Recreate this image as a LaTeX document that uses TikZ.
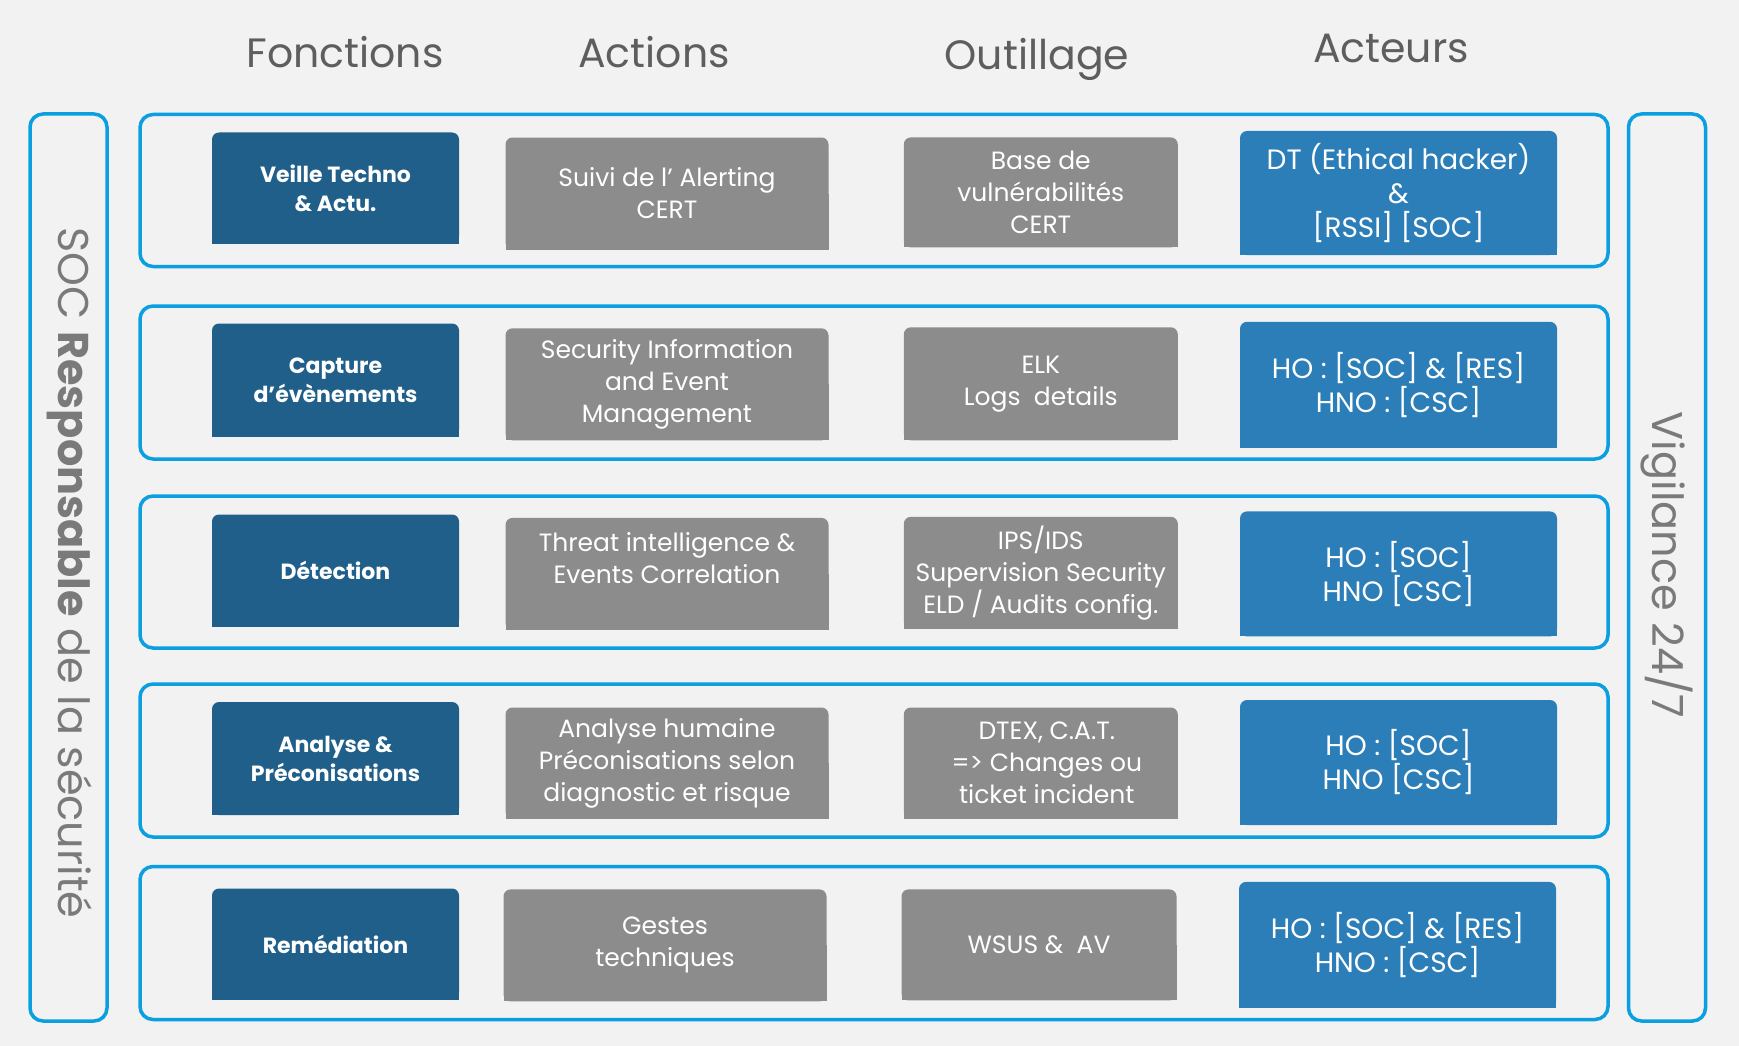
\documentclass[tikz,border=0pt]{standalone}
\usepackage{fontspec}
\setmainfont{Poppins}
\usetikzlibrary{backgrounds}
\definecolor{bgc}{HTML}{F2F2F2}
\definecolor{frm}{HTML}{0A9FE0}
\definecolor{dkb}{HTML}{1F5F8A}
\definecolor{mdb}{HTML}{2B7EB8}
\definecolor{gry}{HTML}{8C8C8C}
\definecolor{hdr}{HTML}{5E5E5E}
\definecolor{sdt}{HTML}{7A7A7A}
\tikzset{
  base/.style={inner sep=0pt, outer sep=0pt, align=center, text=white},
  fbox/.style={base, minimum width=247pt, font=\bfseries\fontsize{22}{29}\selectfont},
  abox/.style={base, font=\fontsize{25}{32}\selectfont},
  obox/.style={base, font=\fontsize{25}{32}\selectfont},
  pbox/.style={base, font=\fontsize{28}{34}\selectfont},
  rowframe/.style={draw=frm, line width=3.5pt, rounded corners=13pt, minimum width=1468pt, inner sep=0pt},
  sideframe/.style={draw=frm, line width=3.5pt, rounded corners=13pt, minimum width=77pt, minimum height=907pt, inner sep=0pt},
  hdrtext/.style={text=hdr, font=\fontsize{41}{47}\selectfont, inner sep=0pt},
  sidetext/.style={text=sdt, font=\fontsize{43}{49}\selectfont, inner sep=0pt, rotate=-90},
}
\newcommand\topround[2]{%
  \fill[#2, rounded corners=7pt] (#1.south west) -- (#1.north west) -- (#1.north east) -- (#1.south east) -- cycle;
  \fill[#2] (#1.south west) rectangle (#1.east);}
\begin{document}
\begin{tikzpicture}[x=1pt,y=-1pt]
\useasboundingbox (0,0) rectangle (1739,1046);

% headers
\node[hdrtext] (hf) at (345,52) {Fonctions};
\node[hdrtext] (ha) at (654,52) {Actions};
\node[hdrtext] (ho) at (1037,59) {Outillage};
\node[hdrtext] (hc) at (1391,48) {Acteurs};

% side frames
\node[sideframe] (left) at (68.5,567.5) {};
\node[sideframe] (right) at (1667,567.5) {};
\node[sidetext] (lt) at (70,573) {SOC \textbf{Responsable} de la sécurité};
\node[sidetext] (rt) at (1667,565) {Vigilance 24/7};

% row frames
\node[rowframe, minimum height=152pt] (r1) at (874,190.5) {};
\node[rowframe, minimum height=153pt] (r2) at (874,382.5) {};
\node[rowframe, minimum height=152pt] (r3) at (874,572) {};
\node[rowframe, minimum height=153pt] (r4) at (874,760.5) {};
\node[rowframe, minimum height=153pt] (r5) at (874,943) {};

% column 1 : fonctions
\node[fbox, minimum height=111pt] (f1) at (335.5,188) {Veille Techno\\\& Actu.};
\node[fbox, minimum height=113pt] (f2) at (335.5,380) {Capture\\d’évènements};
\node[fbox, minimum height=112pt] (f3) at (335.5,570.5) {Détection};
\node[fbox, minimum height=113pt] (f4) at (335.5,758.5) {Analyse \&\\Préconisations};
\node[fbox, minimum height=111pt] (f5) at (335.5,944) {Remédiation};

% column 2 : actions
\node[abox, minimum width=323pt, minimum height=112pt] (a1) at (667,193.5) {Suivi de l’ Alerting\\CERT};
\node[abox, minimum width=323pt, minimum height=112pt] (a2) at (667,384.3) {Security Information\\and Event\\Management};
\node[abox, minimum width=323pt, minimum height=112pt] (a3) at (667,573.9) {Threat intelligence \&\\Events Correlation\\\mbox{}};
\node[abox, minimum width=323pt, minimum height=111pt] (a4) at (667,763) {Analyse humaine\\Préconisations selon\\diagnostic et risque};
\node[abox, minimum width=323pt, minimum height=112pt] (a5) at (665,945.4) {Gestes\\techniques};

% column 3 : outillage
\node[obox, minimum width=274pt, minimum height=110pt] (o1) at (1040.8,192.4) {Base de\\vulnérabilités\\CERT};
\node[obox, minimum width=274pt, minimum height=113pt] (o2) at (1040.8,383.8) {ELK\\Logs\ \ details};
\node[obox, minimum width=274pt, minimum height=112pt] (o3) at (1040.8,572.8) {IPS/IDS\\Supervision Security\\ELD / Audits config.};
\node[obox, minimum width=274pt, minimum height=111pt] (o4) at (1040.8,763) {\hspace*{12pt}DTEX, C.A.T.\\\hspace*{12pt}=> Changes ou\\\hspace*{12pt}ticket incident};
\node[obox, minimum width=275pt, minimum height=111pt] (o5) at (1039,944.9) {WSUS \&\ \ AV};

% column 4 : acteurs
\node[pbox, minimum width=317pt, minimum height=124pt] (p1) at (1398.5,193) {DT (Ethical hacker)\\\&\\{[RSSI]} [SOC]};
\node[pbox, minimum width=317pt, minimum height=126pt] (p2) at (1398.5,384.8) {HO : [SOC] \& [RES]\\HNO : [CSC]};
\node[pbox, minimum width=317pt, minimum height=125pt] (p3) at (1398.5,573.9) {HO : [SOC]\\HNO [CSC]};
\node[pbox, minimum width=317pt, minimum height=125pt] (p4) at (1398.5,762.5) {HO : [SOC]\\HNO [CSC]};
\node[pbox, minimum width=317pt, minimum height=126pt] (p5) at (1397.5,944.9) {HO : [SOC] \& [RES]\\HNO : [CSC]};

\begin{scope}[on background layer]
  \fill[bgc] (0,0) rectangle (1739,1046);
  \foreach \n in {f1,f2,f3,f4,f5}{\topround{\n}{dkb}}
  \foreach \n in {a1,a2,a3,a4,a5,o1,o2,o3,o4,o5}{\topround{\n}{gry}}
  \foreach \n in {p1,p2,p3,p4,p5}{\topround{\n}{mdb}}
\end{scope}
\end{tikzpicture}
\end{document}
